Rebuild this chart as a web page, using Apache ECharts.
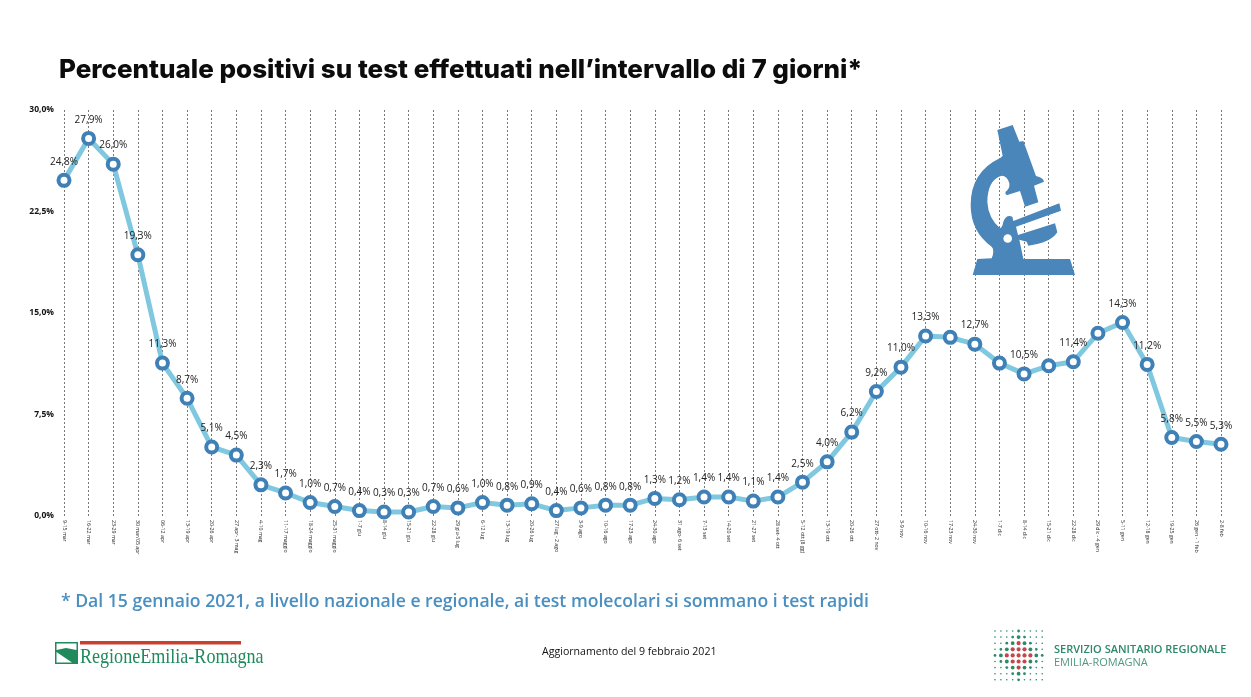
<!DOCTYPE html>
<html><head><meta charset="utf-8">
<style>html,body{margin:0;padding:0;background:#fff}#c{width:1251px;height:697px}</style>
<script src="https://cdn.jsdelivr.net/npm/echarts@6/dist/echarts.min.js"></script>
</head><body><div id="c"></div>
<script>
const weeks = ['9-15 mar','16-22 mar','23-29 mar','30 mar/05 apr','06-12 apr','13-19 apr','20-26 apr','27 apr- 3 mag','4-10 mag','11-17 maggio','18-24 maggio','25-31 maggio','1-7 giu','8-14 giu','15-21 giu','22-28 giu','29 giu-5 lug','6-12 lug','13-19 lug','20-26 lug','27 lug - 2 ago','3-9 ago','10-16 ago','17-23 ago','24-30 ago','31 ago- 6 set','7-13 set','14-20 set','21-27 set','28 set- 4 ott','5-12 ott (8 gg)','13-19 ott','20-26 ott','27 ott- 2 nov','3-9 nov','10-16 nov','17-23 nov','24-30 nov','1-7 dic','8-14 dic','15-21 dic','22-28 dic','29 dic - 4 gen','5-11 gen','12-18 gen','19-25 gen','26 gen - 1 feb','2-8 feb'];
const positivity = [24.8,27.9,26.0,19.3,11.3,8.7,5.1,4.5,2.3,1.7,1.0,0.7,0.4,0.3,0.3,0.7,0.6,1.0,0.8,0.9,0.4,0.6,0.8,0.8,1.3,1.2,1.4,1.4,1.1,1.4,2.5,4.0,6.2,9.2,11.0,13.3,13.2,12.7,11.3,10.5,11.1,11.4,13.5,14.3,11.2,5.8,5.5,5.3];
const unlabelledWeeks = ['17-23 nov','1-7 dic','15-21 dic','29 dic - 4 gen'];
const titleText = 'Percentuale positivi su test effettuati nell\u2019intervallo di 7 giorni*';
const noteText = '* Dal 15 gennaio 2021, a livello nazionale e regionale, ai test molecolari si sommano i test rapidi';
const updateText = 'Aggiornamento del 9 febbraio 2021';
const comma = (v) => v.toFixed(1).replace('.', ',') + '%';

const microscope = 'M112,45 L158,30 L178,80 L190,78 L228,183 Q250,188 252,200 L222,212 L235,262 L195,275 L180,228 L142,240 Q134,238 137,230 Q150,222 148,205 Q142,182 125,182 Q82,195 82,262 Q85,310 120,340 Q128,335 130,320 Q138,298 157,305 L160,318 L298,265 L303,287 L168,335 L174,360 L285,325 L292,352 Q270,385 205,392 L200,380 L178,374 L190,432 L330,432 L345,480 L38,480 L52,432 L95,430 Q105,405 95,395 Q32,350 32,270 Q32,170 122,128 L128,122 Z';
echarts.graphic.registerShape('microscope', echarts.graphic.extendPath(microscope, {}));

const graphics = [
  {type:'microscope', x:960, y:115, scaleX:1/3, scaleY:1/3, z:1, style:{fill:'#4a86ba'}},
  {type:'circle', z:2, shape:{cx:1007.7, cy:238.5, r:4.3}, style:{fill:'#fff'}},
  {type:'rect', z:2, shape:{x:80, y:641, width:161, height:3.5}, style:{fill:'#c9402f'}},
  {type:'rect', z:2, shape:{x:55, y:642, width:23, height:22}, style:{fill:'#1f8a5c'}},
  {type:'polygon', z:3, shape:{points:[[56.5,643.5],[76.5,643.5],[76.5,650],[66,648],[56.5,650]]}, style:{fill:'#fff'}},
  {type:'polygon', z:3, shape:{points:[[56.5,652],[72,662.5],[56.5,662.5]]}, style:{fill:'#fff'}},
  {type:'text', z:3, x:80, y:647, scaleX:0.86, style:{text:'RegioneEmilia-Romagna', font:'21px "Liberation Serif"', fill:'#1f8a5c'}},
  {type:'text', z:3, x:542, y:646, style:{text:updateText, font:'10.6px "Open Sans"', fill:'#111'}},
  {type:'text', z:3, x:1054, y:644, style:{text:'SERVIZIO SANITARIO REGIONALE', font:'600 11px "Open Sans"', fill:'#2b8a68'}},
  {type:'text', z:3, x:1054, y:657, style:{text:'EMILIA-ROMAGNA', font:'11px "Open Sans"', fill:'#4f9a80'}}
];
for (let r = 0; r < 9; r++) for (let c = 0; c < 9; c++) {
  const d = Math.abs(r-4) + Math.abs(c-4);
  const mx = Math.max(Math.abs(r-4), Math.abs(c-4));
  const red = (mx <= 1) || (d === 2 && (r === 4 || c === 4));
  const radius = red ? 2.1 : d <= 3 ? 1.9 : d === 4 ? 1.4 : 0.8;
  graphics.push({type:'circle', z:3, shape:{cx:995 + c*5.9, cy:631 + r*6.1, r:radius}, style:{fill: red ? '#c8454a' : '#2b8a68'}});
}

const chart = echarts.init(document.getElementById('c'), null, {renderer:'canvas'});
chart.setOption({
  animation:false,
  backgroundColor:'#fff',
  title:[
    {text:titleText, left:59, top:57, padding:0, textStyle:{fontFamily:'Inter', fontWeight:800, fontSize:26, color:'#0c0c0c'}},
    {text:noteText, left:61, top:593, padding:0, textStyle:{fontFamily:'Open Sans', fontWeight:600, fontSize:17.6, color:'#4a8fc0'}}
  ],
  grid:{left:64, right:30, top:110, bottom:181, containLabel:false},
  xAxis:{
    type:'category', data:weeks, boundaryGap:false,
    axisLine:{show:false}, axisTick:{show:false},
    splitLine:{show:true, lineStyle:{color:'#777', type:[2,2], width:1}},
    axisLabel:{interval:0, rotate:-90, margin:4, fontSize:5.2, fontFamily:'Open Sans', color:'#222'}
  },
  yAxis:{
    type:'value', min:0, max:30, interval:7.5,
    axisLine:{show:false}, axisTick:{show:false}, splitLine:{show:false},
    axisLabel:{margin:10, fontSize:8.5, fontWeight:700, fontFamily:'Open Sans', color:'#111', formatter:(v)=>comma(v)}
  },
  series:[{
    type:'line', smooth:false, z:5,
    data:positivity.map((v,i)=>({value:v, label:{show:!unlabelledWeeks.includes(weeks[i])}})),
    lineStyle:{color:'#80c8df', width:5},
    symbol:'circle', symbolSize:11, showAllSymbol:true,
    itemStyle:{color:'#fff', borderColor:'#3f80b6', borderWidth:4},
    label:{show:true, position:'top', distance:6, fontSize:10, fontFamily:'Open Sans', color:'#222', formatter:(p)=>comma(p.value)},
    labelLayout:{hideOverlap:false}
  }],
  graphic:{elements:graphics}
});
</script></body></html>
